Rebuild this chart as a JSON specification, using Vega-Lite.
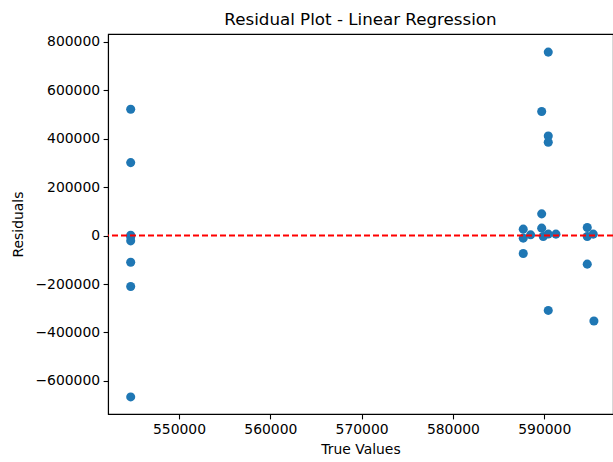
{
  "$schema": "https://vega.github.io/schema/vega-lite/v6.json",
  "width": 505,
  "height": 380,
  "autosize": {"type": "none"},
  "padding": {"left": 108, "top": 34, "right": 0, "bottom": 48},
  "config": {
    "font": "DejaVu Sans",
    "view": {"stroke": "black", "strokeWidth": 1.1},
    "axis": {
      "grid": false,
      "domainColor": "black",
      "domainWidth": 1.1,
      "tickColor": "black",
      "tickWidth": 1.1,
      "tickSize": 4.9,
      "labelFont": "DejaVu Sans",
      "labelFontSize": 13.9,
      "labelColor": "black",
      "labelPadding": 3.5,
      "titleFont": "DejaVu Sans",
      "titleFontSize": 13.9,
      "titleFontWeight": "normal",
      "titleColor": "black"
    },
    "title": {"font": "DejaVu Sans", "fontSize": 16.7, "fontWeight": "normal", "color": "black", "offset": 5}
  },
  "title": {"text": "Residual Plot - Linear Regression", "anchor": "middle"},
  "datasets": {
    "pts": [
      {"true": 544710, "resid": 521000},
      {"true": 544710, "resid": 301000},
      {"true": 544710, "resid": 1000},
      {"true": 544710, "resid": -6000},
      {"true": 544710, "resid": -22000},
      {"true": 544710, "resid": -110000},
      {"true": 544710, "resid": -210000},
      {"true": 544710, "resid": -666000},
      {"true": 590440, "resid": 757000},
      {"true": 589720, "resid": 512000},
      {"true": 590440, "resid": 411000},
      {"true": 590440, "resid": 385000},
      {"true": 589720, "resid": 89500},
      {"true": 587700, "resid": 26400},
      {"true": 587700, "resid": -10700},
      {"true": 588510, "resid": 2900},
      {"true": 589720, "resid": 30500},
      {"true": 589890, "resid": -4000},
      {"true": 590440, "resid": 6000},
      {"true": 591280, "resid": 5800},
      {"true": 587700, "resid": -74000},
      {"true": 590440, "resid": -309000},
      {"true": 594710, "resid": 33000},
      {"true": 594710, "resid": -4000},
      {"true": 595370, "resid": 5800},
      {"true": 594710, "resid": -118000},
      {"true": 595440, "resid": -353000}
    ],
    "zero": [{"y": 0}]
  },
  "layer": [
    {
      "data": {"name": "pts"},
      "mark": {"type": "circle", "size": 82, "color": "#1f77b4", "opacity": 1},
      "encoding": {
        "x": {
          "field": "true", "type": "quantitative", "title": "True Values",
          "scale": {"domain": [542224, 597530], "nice": false, "zero": false},
          "axis": {"values": [550000, 560000, 570000, 580000, 590000], "format": "d", "titlePadding": 6}
        },
        "y": {
          "field": "resid", "type": "quantitative", "title": "Residuals",
          "scale": {"domain": [-736500, 831750], "nice": false, "zero": false},
          "axis": {"values": [-600000, -400000, -200000, 0, 200000, 400000, 600000, 800000], "format": "d", "titlePadding": 9}
        }
      }
    },
    {
      "data": {"name": "zero"},
      "mark": {"type": "rule", "color": "#ff0000", "strokeWidth": 2, "strokeDash": [6, 3]},
      "encoding": {"y": {"field": "y", "type": "quantitative"}}
    }
  ]
}
